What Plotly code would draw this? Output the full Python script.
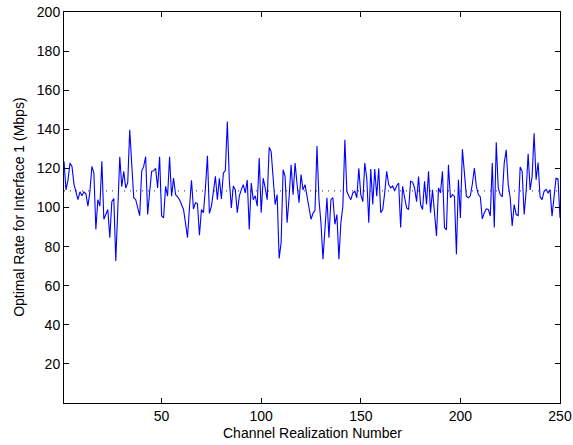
import plotly.graph_objects as go

# optimal rate per channel realization
rate = [
    123.6, 109, 114, 122.7, 121, 112, 108, 104, 108, 106,
    108, 107, 100.7, 108, 121, 117.6, 88.8, 104, 100.7, 123.6,
    94, 97, 99, 84.6, 103, 104.6, 72.7, 99, 126, 110.6,
    118.5, 110, 112.7, 139.7, 120, 105, 104, 100, 95.8, 118.5,
    121, 126, 96.4, 108, 118.5, 118.8, 120, 110, 126, 95.6,
    94.7, 110.8, 105.8, 126, 105.8, 115, 106.6, 105.4, 104, 101.5,
    99, 92, 84.6, 100, 113.9, 99.3, 102.4, 102, 85.8, 99,
    97.3, 110, 126.4, 97, 100.7, 108, 115.9, 104, 115, 104.4,
    117.6, 119, 144, 114, 99.8, 111, 109, 97.3, 105.8, 109,
    111.7, 107.5, 114, 88.8, 112.5, 104, 106, 100.7, 125.3, 97.3,
    115, 110, 104, 130.8, 128.6, 115, 101.5, 106.6, 73.9, 82,
    119.3, 116, 92.2, 105, 121.9, 106.6, 122.7, 112, 102.4, 116.8,
    109, 111.7, 105, 100.7, 94, 97, 98.5, 131.5, 104, 92.2,
    73.6, 88.8, 105, 84.6, 104, 105, 91.4, 96.4, 73.6, 92.2,
    100.7, 134.6, 108.3, 105.8, 104, 107.5, 108.3, 105, 120, 106.6,
    103, 122.7, 115, 92.2, 119.7, 101.5, 119.7, 105.8, 120, 97.3,
    99, 107.5, 118.5, 111.7, 110, 111, 108.6, 111, 112.5, 89.8,
    110.8, 105, 99.8, 99, 113.4, 113, 110, 103, 115.9, 101.5,
    99, 113.4, 101.5, 118.5, 97.3, 109, 97, 85.4, 110, 107.5,
    118.5, 89.7, 88.5, 121.9, 105, 106.6, 105.8, 76.1, 114.2, 94.7,
    129.8, 116, 105.8, 105, 106, 112, 120.2, 110.8, 106.6, 105.4,
    94.2, 97.3, 99.3, 99, 95.6, 122.7, 89.8, 133.4, 110, 106.6,
    105.4, 122.7, 129.5, 111.7, 105, 90.5, 101.5, 96.4, 95.9, 120.7,
    118.5, 96.4, 108.3, 127.5, 109, 115.9, 138, 114.2, 123, 105.4,
    104, 108.3, 109.3, 107.5, 109, 95.6, 104, 115, 114.6, 94.7,
]
realization = list(range(1, len(rate) + 1))
mean_rate = 108.5

x_ticks = [50, 100, 150, 200, 250]
y_ticks = [20, 40, 60, 80, 100, 120, 140, 160, 180, 200]

fig = go.Figure()

# dotted average line
fig.add_trace(go.Scatter(
    x=[realization[0], realization[-1]], y=[mean_rate, mean_rate],
    mode="lines", line=dict(color="#202080", width=1, dash="1px,5px"),
    hoverinfo="skip"
))

fig.add_trace(go.Scatter(
    x=realization, y=rate, mode="lines",
    line=dict(color="#0000ff", width=1.1)
))

axis_style = dict(
    showgrid=False, zeroline=False, showline=True, linecolor="black",
    linewidth=1, mirror="ticks", ticks="inside", ticklen=5,
    tickcolor="black", tickfont=dict(size=14), automargin=False
)

fig.update_layout(
    width=573, height=445,
    margin=dict(l=64, r=13, t=12, b=42),
    plot_bgcolor="white", paper_bgcolor="white",
    showlegend=False,
    font=dict(family="Liberation Sans, Arial, sans-serif", size=14, color="black"),
    xaxis=dict(range=[1, 250], tickvals=x_ticks, **axis_style),
    yaxis=dict(range=[0, 200], tickvals=y_ticks, **axis_style),
)

# axis titles
fig.add_annotation(text="Channel Realization Number", xref="paper", yref="paper",
                   x=0.5, y=-0.077, xanchor="center", yanchor="middle",
                   showarrow=False, font=dict(size=14))
fig.add_annotation(text="Optimal Rate for Interface 1 (Mbps)", xref="paper", yref="paper",
                   x=-0.092, y=0.5, xanchor="center", yanchor="middle", textangle=-90,
                   showarrow=False, font=dict(size=14))

# page body has a default 8px margin, drop it so the figure fills the window
fig.write_html("out.html", config={"displayModeBar": False},
               post_script="document.body.style.margin='0';")
